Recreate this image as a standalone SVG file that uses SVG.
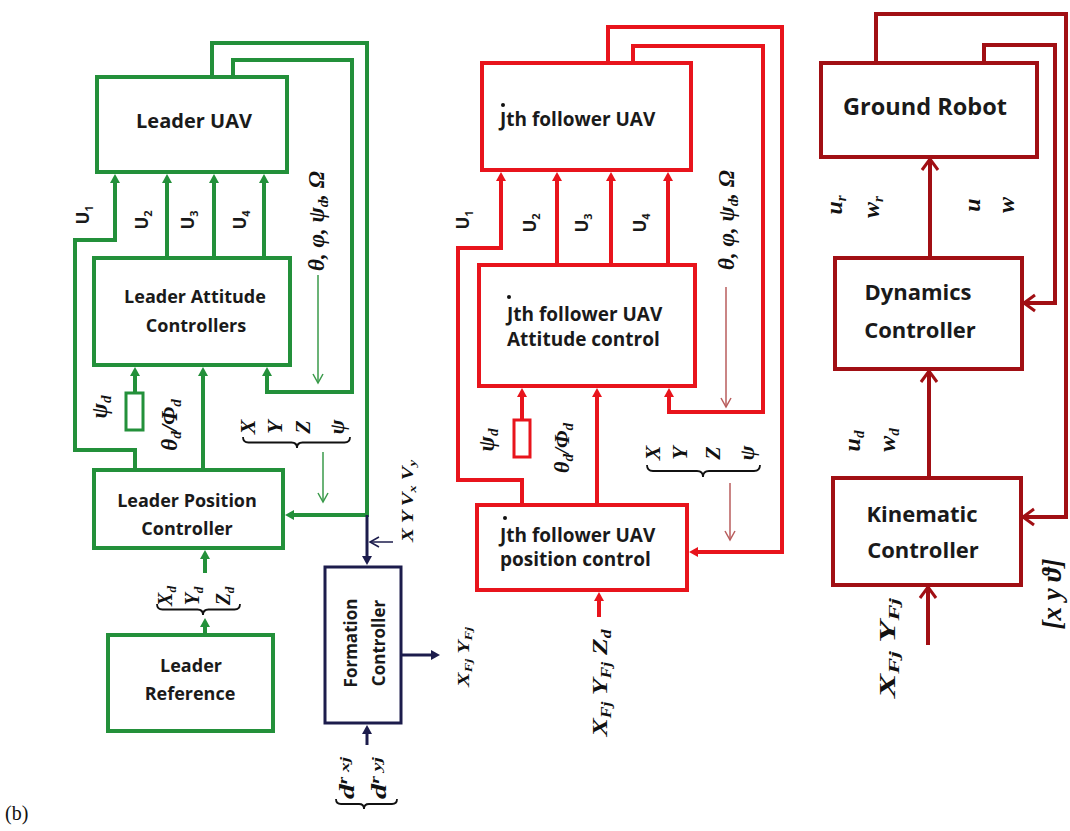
<svg xmlns="http://www.w3.org/2000/svg" width="1070" height="831" viewBox="0 0 1070 831">
<style>
.gl{fill:none;stroke:#23903a;stroke-width:4;stroke-linejoin:miter}
.rl{fill:none;stroke:#e8141c;stroke-width:4}
.dl{fill:none;stroke:#a10f14;stroke-width:4}
.nl{fill:none;stroke:#1c1c4c;stroke-width:3}
.gt{fill:none;stroke:#3a9a4a;stroke-width:1.5}
.rt{fill:none;stroke:#b85c5c;stroke-width:1.5}
.nt{fill:none;stroke:#1c1c4c;stroke-width:1.5}
.gb{fill:#fff;stroke:#23903a;stroke-width:4}
.rb{fill:#fff;stroke:#e8141c;stroke-width:4}
.db{fill:#fff;stroke:#a10f14;stroke-width:4}
.nb{fill:#fff;stroke:#1c1c4c;stroke-width:3}
.br{fill:none;stroke:#111;stroke-width:1.8}
.bt{font-family:"Open Sans",sans-serif;font-weight:bold;fill:#1a1a1a}
.m{font-family:"Liberation Serif",serif;font-weight:bold;font-style:italic;fill:#111}
.u{font-family:"Open Sans",sans-serif;font-weight:bold;font-size:17px;fill:#1a1a1a}
</style>
<defs>
<marker id="ahG" markerUnits="userSpaceOnUse" markerWidth="10" markerHeight="10" refX="0" refY="5" orient="auto" overflow="visible"><path d="M0,0 L9,5 L0,10 z" fill="#23903a"/></marker>
<marker id="ahR" markerUnits="userSpaceOnUse" markerWidth="10" markerHeight="10" refX="0" refY="5" orient="auto" overflow="visible"><path d="M0,0 L9,5 L0,10 z" fill="#e8141c"/></marker>
<marker id="ahN" markerUnits="userSpaceOnUse" markerWidth="10" markerHeight="10" refX="0" refY="5" orient="auto" overflow="visible"><path d="M0,0 L9,5 L0,10 z" fill="#1c1c4c"/></marker>
<marker id="ohG" markerUnits="userSpaceOnUse" markerWidth="10" markerHeight="10" refX="0" refY="0" orient="auto" overflow="visible"><path d="M-9,-5 L0,0 L-9,5" fill="none" stroke="#3a9a4a" stroke-width="1.5"/></marker>
<marker id="ohR" markerUnits="userSpaceOnUse" markerWidth="10" markerHeight="10" refX="0" refY="0" orient="auto" overflow="visible"><path d="M-9,-5 L0,0 L-9,5" fill="none" stroke="#b85c5c" stroke-width="1.5"/></marker>
<marker id="ohN" markerUnits="userSpaceOnUse" markerWidth="10" markerHeight="10" refX="0" refY="0" orient="auto" overflow="visible"><path d="M-9,-5 L0,0 L-9,5" fill="none" stroke="#1c1c4c" stroke-width="1.5"/></marker>
<marker id="ohD" markerUnits="userSpaceOnUse" markerWidth="10" markerHeight="10" refX="0" refY="0" orient="auto" overflow="visible"><path d="M-11,-8 L0,0 L-11,8" fill="none" stroke="#a10f14" stroke-width="3"/></marker>
</defs>
<rect width="1070" height="831" fill="#fff"/>

<g id="connectors">
  <path class="gl" d="M212,75 V43 H367 V515 H294" marker-end="url(#ahG)"/>
  <path class="gl" d="M233,75 V60 H352 V392 H267 V376" marker-end="url(#ahG)"/>
  <path class="gl" d="M135,470 V450 H75 V240 H115 V183" marker-end="url(#ahG)"/>
  <path class="gl" d="M167,258 V183" marker-end="url(#ahG)"/>
  <path class="gl" d="M214,258 V183" marker-end="url(#ahG)"/>
  <path class="gl" d="M264,258 V183" marker-end="url(#ahG)"/>
  <path class="gl" d="M135,393 V376" marker-end="url(#ahG)"/>
  <path class="gl" d="M203,470 V376" marker-end="url(#ahG)"/>
  <path class="gl" d="M205,573 V559" marker-end="url(#ahG)"/>
  <path class="gl" d="M205,635 V627" marker-end="url(#ahG)"/>
  <path class="gt" d="M318,275 V383" marker-end="url(#ohG)"/>
  <path class="gt" d="M323,452 V502" marker-end="url(#ohG)"/>
  <path class="nl" d="M367,515 V556" marker-end="url(#ahN)"/>
  <path class="nl" d="M401,655 H431" marker-end="url(#ahN)"/>
  <path class="nl" d="M367,745 V734" marker-end="url(#ahN)"/>
  <path class="nt" d="M393,542 H370" marker-end="url(#ohN)"/>
  <path class="rl" d="M608,63 V27 H782 V552 H698" marker-end="url(#ahR)"/>
  <path class="rl" d="M633,63 V46 H763 V412 H669 V397" marker-end="url(#ahR)"/>
  <path class="rl" d="M522,505 V480 H458 V248 H501 V181" marker-end="url(#ahR)"/>
  <path class="rl" d="M557,265 V181" marker-end="url(#ahR)"/>
  <path class="rl" d="M611,265 V181" marker-end="url(#ahR)"/>
  <path class="rl" d="M668,265 V181" marker-end="url(#ahR)"/>
  <path class="rl" d="M522,420 V397" marker-end="url(#ahR)"/>
  <path class="rl" d="M597,505 V397" marker-end="url(#ahR)"/>
  <path class="rl" d="M599,617 V601" marker-end="url(#ahR)"/>
  <path class="rt" d="M726,287 V407" marker-end="url(#ohR)"/>
  <path class="rt" d="M730,483 V540" marker-end="url(#ohR)"/>
  <path class="dl" d="M876,63 V14 H1066 V517 H1023" marker-end="url(#ohD)"/>
  <path class="dl" d="M984,63 V45 H1055 V303 H1024" marker-end="url(#ohD)"/>
  <path class="dl" d="M930,258 V159" stroke-width="3" marker-end="url(#ohD)"/>
  <path class="dl" d="M929,478 V371" stroke-width="3" marker-end="url(#ohD)"/>
  <path class="dl" d="M928,645 V587" stroke-width="3" marker-end="url(#ohD)"/>
</g>

<g id="leader-uav"><rect class="gb" x="97" y="77" width="190" height="95"/><text class="bt" x="194" y="128" font-size="20" text-anchor="middle">Leader UAV</text></g>
<g id="leader-attitude"><rect class="gb" x="94" y="258" width="196" height="107"/><text class="bt" x="195" y="303" font-size="18" text-anchor="middle">Leader Attitude</text><text class="bt" x="196" y="332" font-size="18" text-anchor="middle">Controllers</text></g>
<g id="psi-block"><rect x="126" y="393" width="17" height="37" fill="#fff" stroke="#23903a" stroke-width="3"/></g>
<g id="leader-position"><rect class="gb" x="94" y="470" width="189" height="78"/><text class="bt" x="187" y="507" font-size="18" text-anchor="middle">Leader Position</text><text class="bt" x="187" y="535" font-size="18" text-anchor="middle">Controller</text></g>
<g id="leader-reference"><rect class="gb" x="108" y="635" width="165" height="96"/><text class="bt" x="191" y="672" font-size="18" text-anchor="middle">Leader</text><text class="bt" x="190" y="700" font-size="18" text-anchor="middle">Reference</text></g>
<g id="formation-controller"><rect class="nb" x="325" y="567" width="76" height="156"/><text class="bt" font-size="17" text-anchor="middle" transform="translate(357,643) rotate(-90)">Formation</text><text class="bt" font-size="17" text-anchor="middle" transform="translate(385,643) rotate(-90)">Controller</text></g>

<g id="follower-uav"><rect class="rb" x="482" y="63" width="209" height="107"/><text class="bt" x="500" y="126" font-size="19">Jth follower UAV</text><circle cx="503" cy="105" r="2" fill="#111"/></g>
<g id="follower-attitude"><rect class="rb" x="479" y="265" width="216" height="121"/><text class="bt" x="507" y="321" font-size="19">Jth follower UAV</text><text class="bt" x="507" y="346" font-size="19">Attitude control</text><circle cx="509" cy="297" r="2" fill="#111"/></g>
<g id="follower-psi-block"><rect x="514" y="420" width="16" height="37" fill="#fff" stroke="#e8141c" stroke-width="3"/></g>
<g id="follower-position"><rect class="rb" x="477" y="505" width="210" height="85"/><text class="bt" x="500" y="542" font-size="19">Jth follower UAV</text><text class="bt" x="500" y="566" font-size="19">position control</text><circle cx="505" cy="518" r="2" fill="#111"/></g>

<g id="ground-robot"><rect class="db" x="821" y="63" width="216" height="94"/><text class="bt" x="925" y="115" font-size="23.5" text-anchor="middle">Ground Robot</text></g>
<g id="dynamics-controller"><rect class="db" x="835" y="258" width="187" height="111"/><text class="bt" x="918" y="300" font-size="22" text-anchor="middle">Dynamics</text><text class="bt" x="920" y="338" font-size="22" text-anchor="middle">Controller</text></g>
<g id="kinematic-controller"><rect class="db" x="833" y="478" width="188" height="107"/><text class="bt" x="922" y="522" font-size="22" text-anchor="middle">Kinematic</text><text class="bt" x="923" y="558" font-size="22" text-anchor="middle">Controller</text></g>

<g id="labels">
  <text class="u" transform="translate(89,215) rotate(-90)" text-anchor="middle">U<tspan font-size="11" dy="4">1</tspan></text>
  <text class="u" transform="translate(148,220) rotate(-90)" text-anchor="middle">U<tspan font-size="11" dy="4">2</tspan></text>
  <text class="u" transform="translate(194,220) rotate(-90)" text-anchor="middle">U<tspan font-size="11" dy="4">3</tspan></text>
  <text class="u" transform="translate(246,220) rotate(-90)" text-anchor="middle">U<tspan font-size="11" dy="4">4</tspan></text>
  <text class="u" transform="translate(469,220) rotate(-90)" text-anchor="middle">U<tspan font-size="11" dy="4">1</tspan></text>
  <text class="u" transform="translate(536,223) rotate(-90)" text-anchor="middle">U<tspan font-size="11" dy="4">2</tspan></text>
  <text class="u" transform="translate(588,223) rotate(-90)" text-anchor="middle">U<tspan font-size="11" dy="4">3</tspan></text>
  <text class="u" transform="translate(646,223) rotate(-90)" text-anchor="middle">U<tspan font-size="11" dy="4">4</tspan></text>

  <text class="m" font-size="23" transform="translate(324,221) rotate(-90)" text-anchor="middle">θ, φ, ψ<tspan font-size="15" dy="4">d</tspan><tspan dy="-4">, Ω</tspan></text>
  <text class="m" font-size="23" transform="translate(107,407) rotate(-90)" text-anchor="middle">ψ<tspan font-size="15" dy="4">d</tspan></text>
  <text class="m" font-size="23" transform="translate(177,425) rotate(-90)" text-anchor="middle">θ<tspan font-size="15" dy="4">d</tspan><tspan dy="-4">/Φ</tspan><tspan font-size="15" dy="4">d</tspan></text>
  <text class="m" font-size="22" transform="translate(255,427) rotate(-90)" text-anchor="middle">X</text>
  <text class="m" font-size="22" transform="translate(282,427) rotate(-90)" text-anchor="middle">Y</text>
  <text class="m" font-size="22" transform="translate(310,427) rotate(-90)" text-anchor="middle">Z</text>
  <text class="m" font-size="22" transform="translate(344,427) rotate(-90)" text-anchor="middle">ψ</text>
  <path class="br" d="M243,437 Q243,442.5 248.5,442.5 L291.5,442.5 Q297,442.5 297,448 Q297,442.5 302.5,442.5 L344.5,442.5 Q350,442.5 350,437"/>
  <text class="m" font-size="20" transform="translate(172,596) rotate(-90)" text-anchor="middle">X<tspan font-size="13" dy="4">d</tspan></text>
  <text class="m" font-size="20" transform="translate(199,596) rotate(-90)" text-anchor="middle">Y<tspan font-size="13" dy="4">d</tspan></text>
  <text class="m" font-size="20" transform="translate(230,596) rotate(-90)" text-anchor="middle">Z<tspan font-size="13" dy="4">d</tspan></text>
  <path class="br" d="M157,604 Q157,609.5 162.5,609.5 L197.5,609.5 Q203,609.5 203,615 Q203,609.5 208.5,609.5 L234.5,609.5 Q240,609.5 240,604"/>
  <text class="m" font-size="16" transform="translate(413,501) rotate(-90)" text-anchor="middle" textLength="82" lengthAdjust="spacingAndGlyphs">X Y V<tspan font-size="11" dy="3">x</tspan><tspan dy="-3"> V</tspan><tspan font-size="11" dy="3">y</tspan></text>

  <text class="m" font-size="17" transform="translate(469,657) rotate(-90)" text-anchor="middle" textLength="60" lengthAdjust="spacingAndGlyphs">X<tspan font-size="11" dy="3">Fj</tspan><tspan dy="-3"> Y</tspan><tspan font-size="11" dy="3">Fj</tspan></text>
  <text class="m" font-size="20" transform="translate(354,778) rotate(-90)" text-anchor="middle" textLength="42" lengthAdjust="spacingAndGlyphs">d<tspan font-size="13" dy="-7">r</tspan><tspan font-size="13" dy="2"> xj</tspan></text>
  <text class="m" font-size="20" transform="translate(386,778) rotate(-90)" text-anchor="middle" textLength="42" lengthAdjust="spacingAndGlyphs">d<tspan font-size="13" dy="-7">r</tspan><tspan font-size="13" dy="2"> yj</tspan></text>
  <path class="br" d="M336,799 Q336,804 341,804 L359,804 Q364,804 364,809 Q364,804 369,804 L392,804 Q397,804 397,799"/>

  <text class="m" font-size="23" transform="translate(734,220) rotate(-90)" text-anchor="middle">θ, φ, ψ<tspan font-size="15" dy="4">d</tspan><tspan dy="-4">, Ω</tspan></text>
  <text class="m" font-size="23" transform="translate(494,440) rotate(-90)" text-anchor="middle">ψ<tspan font-size="15" dy="4">d</tspan></text>
  <text class="m" font-size="22" transform="translate(569,448) rotate(-90)" text-anchor="middle">θ<tspan font-size="15" dy="4">d</tspan><tspan dy="-4">/Φ</tspan><tspan font-size="15" dy="4">d</tspan></text>
  <text class="m" font-size="22" transform="translate(660,453) rotate(-90)" text-anchor="middle">X</text>
  <text class="m" font-size="22" transform="translate(687,453) rotate(-90)" text-anchor="middle">Y</text>
  <text class="m" font-size="22" transform="translate(720,453) rotate(-90)" text-anchor="middle">Z</text>
  <text class="m" font-size="22" transform="translate(754,453) rotate(-90)" text-anchor="middle">ψ</text>
  <path class="br" d="M647,465 Q647,471 653,471 L697,471 Q703,471 703,477 Q703,471 709,471 L754,471 Q760,471 760,465"/>
  <text class="m" font-size="22" transform="translate(607,683) rotate(-90)" text-anchor="middle" textLength="107" lengthAdjust="spacingAndGlyphs">X<tspan font-size="14" dy="4">Fj</tspan><tspan dy="-4"> Y</tspan><tspan font-size="14" dy="4">Fj</tspan><tspan dy="-4"> Z</tspan><tspan font-size="14" dy="4">d</tspan></text>

  <text class="m" font-size="24" transform="translate(842,205) rotate(-90)" text-anchor="middle">u<tspan font-size="15" dy="4">r</tspan></text>
  <text class="m" font-size="24" transform="translate(879,207) rotate(-90)" text-anchor="middle">w<tspan font-size="15" dy="4">r</tspan></text>
  <text class="m" font-size="24" transform="translate(980,205) rotate(-90)" text-anchor="middle">u</text>
  <text class="m" font-size="24" transform="translate(1014,205) rotate(-90)" text-anchor="middle">w</text>
  <text class="m" font-size="24" transform="translate(860,441) rotate(-90)" text-anchor="middle">u<tspan font-size="15" dy="4">d</tspan></text>
  <text class="m" font-size="24" transform="translate(895,440) rotate(-90)" text-anchor="middle">w<tspan font-size="15" dy="4">d</tspan></text>
  <text class="m" font-size="27" transform="translate(1061,594) rotate(-90)" text-anchor="middle">[x y ϑ]</text>
  <text class="m" font-size="23" transform="translate(895,648) rotate(-90)" text-anchor="middle" textLength="100" lengthAdjust="spacingAndGlyphs">X<tspan font-size="15" dy="4">Fj</tspan><tspan dy="-4"> Y</tspan><tspan font-size="15" dy="4">Fj</tspan></text>

  <text x="5" y="820" font-family="Liberation Serif, serif" font-size="20" fill="#111">(b)</text>
</g>
</svg>
